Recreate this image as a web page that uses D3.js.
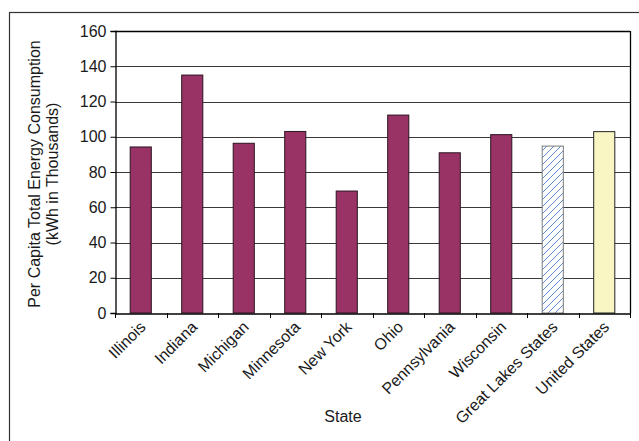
<!DOCTYPE html>
<html><head><meta charset="utf-8">
<script src="https://cdn.jsdelivr.net/npm/d3@7"></script>
<style>body{margin:0;background:#fff}svg{display:block}text{font-family:"Liberation Sans",Arial,sans-serif;fill:#1a1a1a}</style>
</head><body><svg id="c" width="639" height="441"></svg>
<script>
const categories = ["Illinois","Indiana","Michigan","Minnesota","New York","Ohio","Pennsylvania","Wisconsin","Great Lakes States","United States"];
const values = [94.2, 135, 96.3, 103, 69.2, 112.3, 90.9, 101.2, 94.7, 102.9];
const barKinds = ["state","state","state","state","state","state","state","state","hatch","us"];
const yTicks = [0,20,40,60,80,100,120,140,160];
const yTitle = ["Per Capita Total Energy Consumption","(kWh in Thousands)"];
const xTitle = "State";

const FS = 16;
const svg = d3.select("#c");
const defs = svg.append("defs");
const pat = defs.append("pattern").attr("id","hatch").attr("patternUnits","userSpaceOnUse")
  .attr("width",7).attr("height",7);
pat.append("rect").attr("width",7).attr("height",7).attr("fill","#fff");
pat.append("path").attr("d","M-1,8 L8,-1 M-1,1 L1,-1 M6,8 L8,6").attr("stroke","#4f7fd0").attr("stroke-width",0.9);

// outer frame
svg.append("rect").attr("x",9.5).attr("y",12.5).attr("width",700).attr("height",500)
  .attr("fill","none").attr("stroke","#333").attr("stroke-width",1.2);

const L=115, R=630, T=31, B=313;
const x = d3.scaleBand().domain(categories).range([L,R]).paddingInner(0.59).paddingOuter(0.295);
const y = d3.scaleLinear().domain([0,160]).range([B,T]);

// gridlines
svg.append("g").selectAll("line").data(yTicks.filter(d=>d>0)).join("line")
  .attr("x1",L).attr("x2",R).attr("y1",d=>Math.round(y(d))+0.5).attr("y2",d=>Math.round(y(d))+0.5)
  .attr("stroke",d=>d===160?"#000":"#3a3a3a").attr("stroke-width",d=>d===160?1.5:1);
// right border
svg.append("line").attr("x1",R+0.5).attr("x2",R+0.5).attr("y1",T).attr("y2",B).attr("stroke","#000").attr("stroke-width",1.3);

// bars
const fills = {state:"#993366", hatch:"url(#hatch)", us:"#f9f6c4"};
const strokes = {state:"#2a1420", hatch:"#7a7a7a", us:"#222"};
svg.append("g").selectAll("rect").data(categories).join("rect")
  .attr("x",d=>x(d)).attr("width",x.bandwidth())
  .attr("y",(d,i)=>y(values[i])).attr("height",(d,i)=>y(0)-y(values[i]))
  .attr("fill",(d,i)=>fills[barKinds[i]]).attr("stroke",(d,i)=>strokes[barKinds[i]]).attr("stroke-width",1);

// y axis
const ya = svg.append("g").attr("transform",`translate(${L+0.5},0)`)
  .call(d3.axisLeft(y).tickValues(yTicks).tickSize(5).tickPadding(4));
ya.select(".domain").attr("stroke","#000").attr("stroke-width",1.3);
ya.selectAll(".tick line").attr("stroke","#000");
ya.selectAll("text").attr("font-size",FS).attr("fill","#1a1a1a").attr("font-family","Liberation Sans, Arial, sans-serif");

// x axis
const xa = svg.append("g").attr("transform",`translate(0,${B+0.5})`)
  .call(d3.axisBottom(x).tickSize(0).tickFormat(""));
xa.select(".domain").attr("stroke","#000").attr("stroke-width",1.3);
const step = x.step();
const bounds = d3.range(categories.length+1).map(i=>L+i*step);
svg.append("g").selectAll("line").data(bounds).join("line")
  .attr("x1",d=>Math.round(d)+0.5).attr("x2",d=>Math.round(d)+0.5).attr("y1",B).attr("y2",B+5)
  .attr("stroke","#000");

svg.append("g").selectAll("text").data(categories).join("text")
  .attr("transform",d=>`translate(${x(d)+x.bandwidth()/2+6},${B+15}) rotate(-45)`)
  .attr("text-anchor","end").attr("font-size",FS).text(d=>d);

// titles
svg.append("text").attr("x",343).attr("y",422).attr("text-anchor","middle").attr("font-size",FS).text(xTitle);
const yt = svg.append("text").attr("transform","translate(40,174) rotate(-90)").attr("text-anchor","middle").attr("font-size",FS);
yTitle.forEach((t,i)=>yt.append("tspan").attr("x",0).attr("dy",i===0?0:18).text(t));
</script></body></html>
